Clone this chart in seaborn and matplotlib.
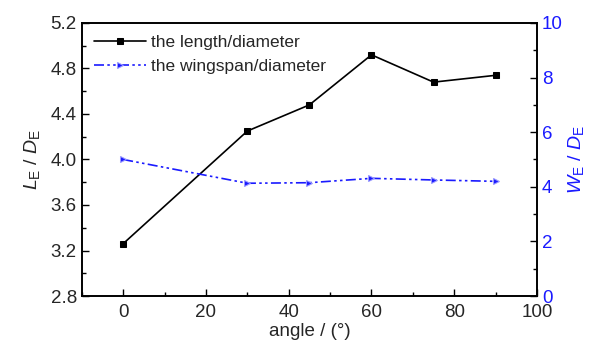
import matplotlib
matplotlib.use("Agg")
import matplotlib.pyplot as plt
import seaborn as sns
import pandas as pd
from matplotlib.ticker import MultipleLocator

angles = [0, 30, 45, 60, 75, 90]
length_ratio = [3.26, 4.25, 4.48, 4.92, 4.68, 4.74]
wingspan_ratio = [5.0, 4.13, 4.15, 4.31, 4.25, 4.2]
label_length = "the length/diameter"
label_wing = "the wingspan/diameter"

sns.set_theme(style="ticks")
plt.rcParams['font.family'] = ['Liberation Sans', 'DejaVu Sans']
plt.rcParams['mathtext.fontset'] = 'custom'
plt.rcParams['mathtext.rm'] = 'Liberation Sans'
plt.rcParams['mathtext.it'] = 'Liberation Sans:italic'

df = pd.DataFrame({"angle": angles, "L": length_ratio, "W": wingspan_ratio})

fig = plt.figure(figsize=(5.97, 3.43), dpi=100)
ax = fig.add_axes([0.137, 0.137, 0.7625, 0.796])
ax2 = ax.twinx()

sns.lineplot(data=df, x="angle", y="L", ax=ax, color="black", marker="s",
             markersize=5, markeredgecolor="black", linewidth=1.2, label=label_length, legend=False)
sns.lineplot(data=df, x="angle", y="W", ax=ax2, color="#1a1aff", marker=">",
             markersize=5, markerfacecolor="#1a1aff", markeredgecolor="#9a9aff",
             linewidth=1.2, dashes=False, legend=False)
for ln in ax2.get_lines():
    ln.set_linestyle((0, (6, 2, 1.5, 2, 1.5, 2)))
    ln.set_label(label_wing)

ax.set_xlim(-10, 100)
ax.set_ylim(2.8, 5.2)
ax2.set_ylim(0, 10)
ax.xaxis.set_major_locator(MultipleLocator(20))
ax.xaxis.set_minor_locator(MultipleLocator(10))
ax.yaxis.set_major_locator(MultipleLocator(0.4))
ax.yaxis.set_minor_locator(MultipleLocator(0.2))
ax2.yaxis.set_major_locator(MultipleLocator(2))
ax2.yaxis.set_minor_locator(MultipleLocator(1))

ax.tick_params(axis="both", which="both", direction="in", labelsize=13.5, color="black")
ax.tick_params(axis="x", which="both", pad=6)
ax.tick_params(which="major", length=5, width=1)
ax.tick_params(which="minor", length=3, width=1)
ax2.tick_params(axis="y", which="both", direction="in", labelsize=13.5, labelcolor="#1a1aff", color="black")
ax2.tick_params(which="major", length=5, width=1)
ax2.tick_params(which="minor", length=3, width=1)

for a in (ax, ax2):
    for s in a.spines.values():
        s.set_color("black")
        s.set_linewidth(1.2)

ax.set_xlabel("angle / (°)", fontsize=13.5, labelpad=1)
ax.set_ylabel(r"$L_\mathrm{E}$ / $D_\mathrm{E}$", fontsize=14, labelpad=6)
ax2.set_ylabel(r"$W_\mathrm{E}$ / $D_\mathrm{E}$", fontsize=14, color="#1a1aff", labelpad=2)

h1, l1 = ax.get_legend_handles_labels()
h2, l2 = ax2.get_legend_handles_labels()
ax2.legend(h1 + h2, l1 + l2, loc="upper left", frameon=False, fontsize=12.5,
           handlelength=3.0, handletextpad=0.3, labelspacing=0.5,
           borderaxespad=0.3)

fig.savefig("out.png", dpi=100)
